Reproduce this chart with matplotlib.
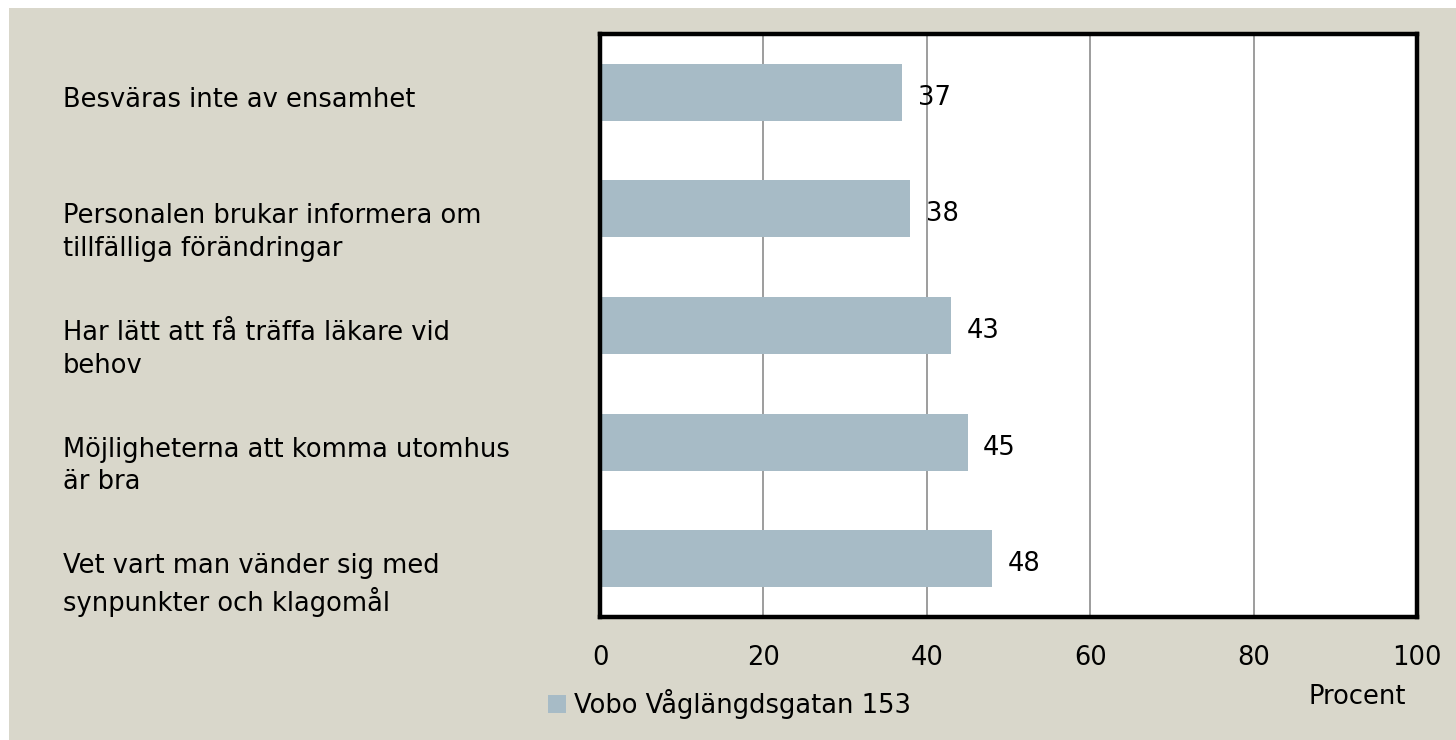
import matplotlib.pyplot as plt
from matplotlib.patches import Rectangle
from matplotlib.transforms import blended_transform_factory

# chart data
categories = ['Besväras inte av ensamhet',
              'Personalen brukar informera om\ntillfälliga förändringar',
              'Har lätt att få träffa läkare vid\nbehov',
              'Möjligheterna att komma utomhus\när bra',
              'Vet vart man vänder sig med\nsynpunkter och klagomål']
values = [37, 38, 43, 45, 48]
series_name = 'Vobo Våglängdsgatan 153'
xticks = [0, 20, 40, 60, 80, 100]

W, H = 1456, 740
bg = '#D9D7CB'
barcol = '#A7BBC6'
fs = 18.5

plt.rcParams['font.family'] = ['DejaVu Sans']

fig = plt.figure(figsize=(W / 100, H / 100), dpi=100)
fig.patch.set_facecolor('white')
# beige panel behind everything
fig.patches.append(Rectangle((9 / W, 0), 1 - 9 / W, 1 - 8 / H,
                             transform=fig.transFigure, facecolor=bg,
                             edgecolor='none', zorder=-5))

ax = fig.add_axes([600 / W, (H - 617) / H, 817 / W, 583 / H])
ax.set_facecolor('white')

y = list(range(len(categories)))
bars = ax.barh(y, values, height=0.49, color=barcol, zorder=2)
ax.set_ylim(len(categories) - 0.5, -0.5)
ax.set_xlim(0, 100)
ax.set_xticks(xticks)
ax.set_xticklabels([str(t) for t in xticks], fontsize=fs)
ax.tick_params(axis='x', length=0, pad=20)
ax.set_yticks([])
ax.grid(axis='x', color='#8C8C8C', linewidth=1.2, zorder=1)
for s in ax.spines.values():
    s.set_linewidth(3.2)
    s.set_color('black')

# value labels
for yi, v in zip(y, values):
    ax.annotate(str(v), (v, yi), xytext=(11, -4), textcoords='offset points',
                va='center', ha='left', fontsize=fs)

# category labels at left of figure
tr = blended_transform_factory(fig.transFigure, ax.transData)
for yi, c in zip(y, categories):
    ax.annotate(c, (63 / W, yi), xycoords=tr, xytext=(0, 4),
                textcoords='offset points', va='top', ha='left',
                fontsize=fs, linespacing=1.33, annotation_clip=False)

fig.text(1357 / W, 1 - 697 / H, 'Procent', ha='center', va='center', fontsize=fs)

h = Rectangle((0, 0), 1, 1, facecolor=barcol)
fig.legend([h], [series_name], loc='center left',
           bbox_to_anchor=(538 / W, 1 - 704 / H), frameon=False,
           fontsize=fs, handlelength=0.7, handleheight=0.7,
           handletextpad=0.3, borderaxespad=0)

fig.savefig('out.png', dpi=100, facecolor=fig.get_facecolor())
